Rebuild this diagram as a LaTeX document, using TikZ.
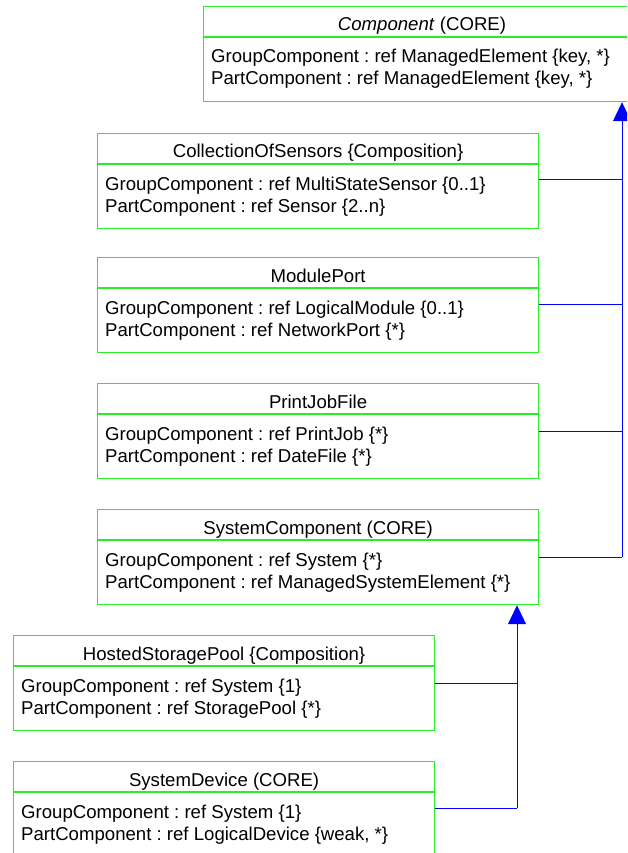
\documentclass[tikz,border=0pt]{standalone}
\usepackage{fontspec}
\setmainfont{Liberation Sans}
\frenchspacing
\usetikzlibrary{arrows.meta,calc}
\definecolor{boxgreen}{RGB}{40,238,40}
\definecolor{connblue}{RGB}{0,0,255}
\tikzset{
  classbox/.style={draw=boxgreen, line width=1.2pt, anchor=north west, minimum height=95pt, inner sep=0pt},
  classline/.style={draw=boxgreen, line width=1.2pt},
  titletext/.style={anchor=base, inner sep=0pt, font=\fontsize{18.6pt}{22pt}\selectfont},
  attrtext/.style={anchor=base west, inner sep=0pt, font=\fontsize{18.6pt}{22pt}\selectfont},
  conn/.style={draw=connblue, line width=1pt},
  genarrow/.style={conn, -{Triangle[width=18pt,length=19pt]}, fill=connblue}
}
\newcommand\umlclass[7]{%
  \node[classbox, minimum width=#4pt] (#1) at (#2,#3) {};
  \draw[classline] ($(#1.north west)+(0,31)$) -- ($(#1.north east)+(0,31)$);
  \node[titletext] (#1-t) at ($(#1.north)+(0,25)$) {#5};
  \node[attrtext] (#1-a) at ($(#1.north west)+(8,57)$) {\frenchspacing #6};
  \node[attrtext] (#1-b) at ($(#1.north west)+(8,79)$) {\frenchspacing #7};
}
\begin{document}
\begin{tikzpicture}[x=1pt,y=-1pt]
\useasboundingbox (0,0) rectangle (627,853);
\begin{scope}
\clip (0,0) rectangle (627,853);
% Component box runs past the right edge of the picture
\node[classbox, minimum width=480pt] (comp) at (203,6) {};
\draw[classline] ($(comp.north west)+(0,31)$) -- ($(comp.north east)+(0,31)$);
\node[titletext] (comp-t) at ($(comp.north west)+(219,25)$) {\textit{Component} (CORE)};
\node[attrtext] (comp-a) at ($(comp.north west)+(8,57)$) {GroupComponent : ref ManagedElement \{key, *\}};
\node[attrtext] (comp-b) at ($(comp.north west)+(8,79)$) {PartComponent : ref ManagedElement \{key, *\}};
\umlclass{sensors}{97}{133}{441}{CollectionOfSensors \{Composition\}}{GroupComponent : ref MultiStateSensor \{0..1\}}{PartComponent : ref Sensor \{2..n\}}
\umlclass{modport}{97}{257}{441}{ModulePort}{GroupComponent : ref LogicalModule \{0..1\}}{PartComponent : ref NetworkPort \{*\}}
\umlclass{printjob}{97}{383}{441}{PrintJobFile}{GroupComponent : ref PrintJob \{*\}}{PartComponent : ref DateFile \{*\}}
\umlclass{syscomp}{97}{509}{441}{SystemComponent (CORE)}{GroupComponent : ref System \{*\}}{PartComponent : ref ManagedSystemElement \{*\}}
\umlclass{hosted}{13}{635}{421}{HostedStoragePool \{Composition\}}{GroupComponent : ref System \{1\}}{PartComponent : ref StoragePool \{*\}}
\umlclass{sysdev}{13}{761}{421}{SystemDevice (CORE)}{GroupComponent : ref System \{1\}}{PartComponent : ref LogicalDevice \{weak, *\}}
% bus coordinates
\coordinate (bus) at (622,0);
\coordinate (bus2) at (517,0);
\coordinate (sensors-p) at ($(sensors.north east)+(0,47)$);
\coordinate (modport-p) at ($(modport.north east)+(0,47)$);
\coordinate (printjob-p) at ($(printjob.north east)+(0,48)$);
\coordinate (syscomp-p) at ($(syscomp.north east)+(0,48)$);
\coordinate (hosted-p) at ($(hosted.north east)+(0,48)$);
\coordinate (sysdev-p) at ($(sysdev.north east)+(0,47)$);
\draw[conn] (sensors-p) -- (sensors-p -| bus);
\draw[conn] (modport-p) -- (modport-p -| bus);
\draw[conn] (printjob-p) -- (printjob-p -| bus);
\draw[conn] (syscomp-p) -- (syscomp-p -| bus);
\draw[genarrow] (syscomp-p -| bus) -- (comp.south -| bus);
\draw[conn] (hosted-p) -- (hosted-p -| bus2);
\draw[conn] (sysdev-p) -- (sysdev-p -| bus2);
\draw[genarrow] (sysdev-p -| bus2) -- (syscomp.south -| bus2);
\end{scope}
\end{tikzpicture}
\end{document}
